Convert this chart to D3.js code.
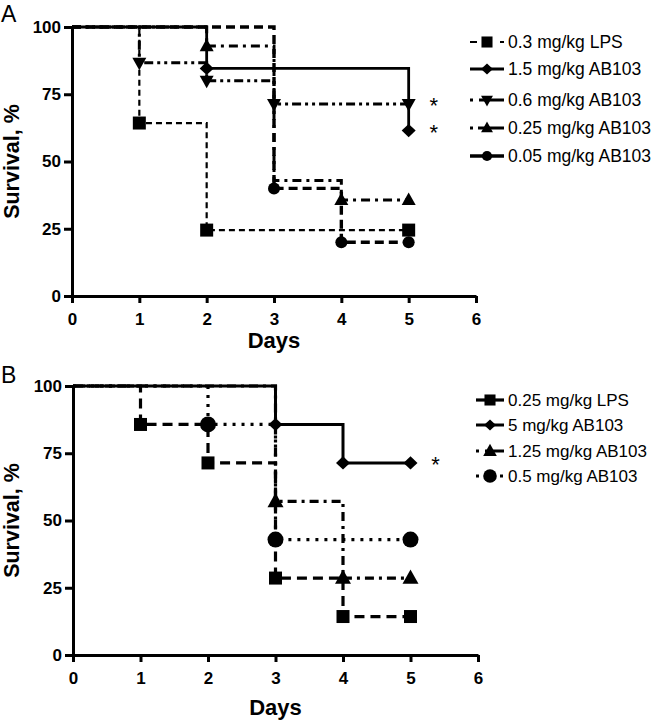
<!DOCTYPE html>
<html>
<head>
<meta charset="utf-8">
<script src="https://cdn.jsdelivr.net/npm/d3@7"></script>
<style>
  html, body { margin: 0; padding: 0; background: #fff; }
  svg { display: block; }
  text { font-family: "Liberation Sans", Arial, Helvetica, sans-serif; fill: #000; }
</style>
</head>
<body>
<svg id="chart" width="658" height="720"></svg>
<script>
// ---------- DATA ----------
const dayTicks = [0, 1, 2, 3, 4, 5, 6];
const survivalTicks = [0, 25, 50, 75, 100];
const obsDays = [0, 1, 2, 3, 4, 5];

// Panel A
const namesA = ["0.3 mg/kg LPS", "1.5 mg/kg AB103", "0.6 mg/kg AB103", "0.25 mg/kg AB103", "0.05 mg/kg AB103"];
const lps03   = [100, 64.3, 24.5, 24.5, 24.5, 24.5];
const ab15    = [100, 100, 84.6, 84.6, 84.6, 61.5];
const ab06    = [100, 86.7, 80.0, 71.4, 71.4, 71.4];
const ab025   = [100, 100, 92.9, 42.9, 35.7, 35.7];
const ab005   = [100, 100, 100, 40.0, 20.0, 20.0];
const marksLps03 = [1, 2, 5];
const marksAb15  = [2, 5];
const marksAb06  = [1, 2, 3, 5];
const marksAb025 = [2, 4, 5];
const marksAb005 = [3, 4, 5];
const starsA = [71.4, 61.5];

// Panel B
const namesB = ["0.25 mg/kg LPS", "5 mg/kg AB103", "1.25 mg/kg AB103", "0.5 mg/kg AB103"];
const lps025  = [100, 85.7, 71.4, 28.6, 14.3, 14.3];
const ab5     = [100, 100, 100, 85.7, 71.4, 71.4];
const ab125   = [100, 100, 100, 57.1, 28.6, 28.6];
const ab05    = [100, 100, 85.7, 42.9, 42.9, 42.9];
const marksLps025 = [1, 2, 3, 4, 5];
const marksAb5    = [3, 4, 5];
const marksAb125  = [3, 4, 5];
const marksAb05   = [2, 3, 5];
const starsB = [71.4];

// ---------- STYLES ----------
const stylesA = [
  { vals: lps03, marks: marksLps03, sw: 2.2, dash: "6,4",           marker: "square",  ms: 13, legDash: "7,8" },
  { vals: ab15,  marks: marksAb15,  sw: 2.8, dash: null,            marker: "diamond", ms: 14, legDash: null },
  { vals: ab06,  marks: marksAb06,  sw: 3,   dash: "9,4,3,4,3,4",   marker: "triDown", ms: 14, legDash: "3,6,30,0" },
  { vals: ab025, marks: marksAb025, sw: 3,   dash: "9,5,3,5",       marker: "triUp",   ms: 14, legDash: "3,5,30" },
  { vals: ab005, marks: marksAb005, sw: 3.4, dash: "9,5",           marker: "circle",  ms: 12, legDash: null }
];
const stylesB = [
  { vals: lps025, marks: marksLps025, sw: 3.2, dash: "10,6",     marker: "square",  ms: 13, legDash: null },
  { vals: ab5,    marks: marksAb5,    sw: 3,   dash: null,       marker: "diamond", ms: 14, legDash: null },
  { vals: ab125,  marks: marksAb125,  sw: 3.2, dash: "9,5,3,5",  marker: "triUp",   ms: 16, legDash: "3,6,30" },
  { vals: ab05,   marks: marksAb05,   sw: 3.2, dash: "3,6",      marker: "circle",  ms: 16, legDash: "3,5" }
];

const svg = d3.select("#chart");

function markerPath(type, s) {
  const h = s / 2;
  if (type === "square") return `M${-h},${-h}h${s}v${s}h${-s}Z`;
  if (type === "diamond") { const w = s / 2, v = s * 0.47; return `M0,${-v}L${w},0L0,${v}L${-w},0Z`; }
  if (type === "triUp") { const t = s * 0.9; return `M0,${-t * 0.6}L${h},${t * 0.4}L${-h},${t * 0.4}Z`; }
  if (type === "triDown") { const t = s * 0.9; return `M0,${t * 0.6}L${h},${-t * 0.4}L${-h},${-t * 0.4}Z`; }
  return null;
}
function drawMarker(g, type, s, x, y) {
  if (type === "circle") {
    g.append("circle").attr("cx", x).attr("cy", y).attr("r", s / 2).attr("fill", "#000");
  } else {
    g.append("path").attr("d", markerPath(type, s)).attr("transform", `translate(${x},${y})`).attr("fill", "#000");
  }
}

function drawPanel(cfg) {
  const x = d3.scaleLinear().domain([0, 6]).range([cfg.x0, cfg.x1]);
  const y = d3.scaleLinear().domain([0, 100]).range([cfg.yBot, cfg.yTop]);
  const g = svg.append("g");

  // series lines
  const line = d3.line().x(d => x(d[0])).y(d => y(d[1])).curve(d3.curveStepAfter);
  cfg.styles.forEach(s => {
    const pts = obsDays.map((d, i) => [d, s.vals[i]]);
    g.append("path").attr("d", line(pts)).attr("fill", "none").attr("stroke", "#000")
      .attr("stroke-width", s.sw).attr("stroke-dasharray", s.dash);
  });
  // markers
  cfg.styles.forEach(s => {
    s.marks.forEach(d => drawMarker(g, s.marker, s.ms, x(d), y(s.vals[obsDays.indexOf(d)])));
  });

  // axes
  const yAxis = d3.axisLeft(y).tickValues(survivalTicks).tickSize(8).tickSizeOuter(0).tickPadding(3).tickFormat(d3.format("d"));
  const xAxis = d3.axisBottom(x).tickValues(dayTicks).tickSize(7).tickSizeOuter(0).tickPadding(10).tickFormat(d3.format("d"));
  const ga = g.append("g").attr("transform", `translate(${cfg.x0},0)`).call(yAxis);
  const gx = g.append("g").attr("transform", `translate(0,${cfg.yBot})`).call(xAxis);
  [ga, gx].forEach(a => {
    a.select(".domain").attr("stroke", "#000").attr("stroke-width", 3);
    a.selectAll(".tick line").attr("stroke", "#000").attr("stroke-width", 3);
    a.selectAll(".tick text").attr("font-size", 17).attr("font-weight", "bold")
      .attr("font-family", '"Liberation Sans", Arial, sans-serif').attr("fill", "#000");
  });

  // titles
  g.append("text").attr("transform", `translate(19,${(cfg.yTop + cfg.yBot) / 2}) rotate(-90)`)
    .attr("text-anchor", "middle").attr("font-size", 21.5).attr("font-weight", "bold").text("Survival, %");
  g.append("text").attr("x", x(3)).attr("y", cfg.daysY).attr("text-anchor", "middle")
    .attr("font-size", 22).attr("font-weight", "bold").text("Days");
  g.append("text").attr("x", 1).attr("y", cfg.labelY).attr("font-size", 23).text(cfg.label);

  // asterisks
  cfg.stars.forEach(v => {
    g.append("text").attr("x", x(5) + 25).attr("y", y(v) + 9).attr("text-anchor", "middle")
      .attr("font-size", 22).text("*");
  });

  // legend
  cfg.styles.forEach((s, i) => {
    const ly = cfg.legY[i];
    const lg = g.append("g");
    lg.append("line").attr("x1", cfg.legX0).attr("x2", cfg.legX1).attr("y1", ly).attr("y2", ly)
      .attr("stroke", "#000").attr("stroke-width", s.sw).attr("stroke-dasharray", s.legDash);
    drawMarker(lg, s.marker, s.ms * cfg.legScale, (cfg.legX0 + cfg.legX1) / 2, ly);
    lg.append("text").attr("x", cfg.legX1 + 4).attr("y", ly + 6).attr("font-size", cfg.legFont).text(cfg.names[i]);
  });
}

drawPanel({
  x0: 72, x1: 476, yTop: 27, yBot: 296, styles: stylesA, names: namesA,
  daysY: 348, labelY: 22, label: "A", stars: starsA,
  legX0: 470, legX1: 504, legY: [42, 69, 100, 128, 156], legFont: 17.5, legScale: 0.85
});
drawPanel({
  x0: 73, x1: 478, yTop: 386, yBot: 655, styles: stylesB, names: namesB,
  daysY: 715, labelY: 383, label: "B", stars: starsB,
  legX0: 476, legX1: 504, legY: [400, 425, 451, 476], legFont: 17, legScale: 0.85
});
</script>
</body>
</html>
